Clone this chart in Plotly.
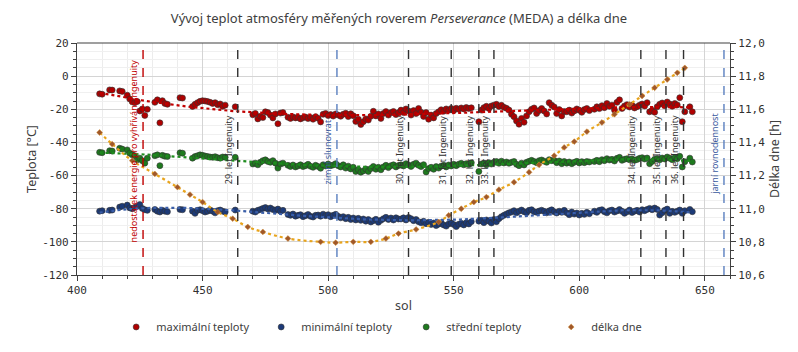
import numpy as np
import plotly.graph_objects as go

# ---------------- data ----------------
sols = [409, 410, 413, 414, 417, 418, 420, 421, 422, 423, 424, 425, 426, 427, 428,
        431, 432, 433, 434, 435, 436,
        441, 442,
        446, 447, 448, 449, 450, 451, 452, 453, 454, 455, 456, 457, 458, 459,
        463,
        470, 471, 472, 473, 474, 475, 476, 477, 478, 479, 480, 481, 482,
        484, 485, 486, 487, 488, 489, 490, 491, 492, 493, 494, 495, 496, 497, 498,
        499, 500, 501, 502, 503, 504, 505, 506, 507, 508, 509, 510, 511, 512, 513,
        514, 515, 516, 517, 518, 519, 520, 521, 522, 523, 524, 525, 526, 527, 528,
        529, 530, 531, 532, 533, 534, 535, 536, 537, 538, 539, 540, 541, 542, 543,
        544, 545, 546, 547, 548, 549, 550, 551, 552, 553, 554, 555, 556, 557,
        560,
        561, 562, 563, 564, 565, 566, 567, 568, 569, 570, 571, 572,
        573, 574, 575, 576, 577, 578, 579, 580, 581, 582, 583, 584, 585, 586, 587,
        588, 589, 590, 591, 592, 593, 594,
        595, 596, 597, 598, 599, 600, 601, 602, 603, 604,
        606, 607, 608, 609, 610, 611, 612, 613, 614, 615, 616, 617, 618, 619, 620,
        621, 622, 623, 624, 625, 626, 627, 628, 629, 630, 631, 632, 633, 634, 635,
        636, 637, 638, 639, 640, 641, 642, 644, 645]

t_max = [-10.7, -10.9, -8.3, -8.4, -8.9, -9.2, -11.5, -13.8, -15.5, -16.0, -15.3, -21.0, -19.8, -23.7, -20.0,
         -15.8, -14.3, -28.2, -14.8, -16.5, -17.0,
         -13.0, -13.2,
         -18.3, -17.0, -16.0, -15.2, -14.8, -15.0, -15.3, -15.8, -16.5, -16.0, -17.2, -16.8, -18.2, -17.5,
         -18.5,
         -23.3, -22.5, -25.8, -24.2, -25.0, -21.5, -22.0, -23.5, -25.2, -22.8, -28.7, -22.3, -22.0,
         -24.8, -25.5, -24.6, -25.2, -24.9, -25.8, -25.1, -24.7, -25.6, -25.0, -26.0, -24.5, -25.4, -27.6, -23.0,
         -22.5, -23.8, -23.2, -24.1, -22.8, -23.5, -24.2, -23.0, -22.4, -24.4, -22.7, -23.9, -27.3, -26.0, -29.2,
         -27.5, -25.8, -26.5, -24.2, -21.2, -24.0, -22.8, -25.5, -22.5, -21.4, -23.5, -22.0, -21.3, -23.2, -22.0,
         -20.5, -22.0, -19.8, -21.0, -23.5, -20.8, -22.6, -19.5, -21.8, -24.3, -22.0, -26.0, -23.5, -25.2, -22.6,
         -21.5, -20.3, -21.2, -19.8, -20.6, -19.5, -20.8, -19.4, -20.0, -19.2, -19.8, -18.9, -19.5, -19.1,
         -27.5,
         -20.5, -19.0, -18.2, -19.5, -18.0, -17.5, -17.0, -18.3, -17.6, -18.8, -19.4, -20.5,
         -23.0, -24.5, -27.0, -29.0, -25.5, -27.8, -24.0, -21.5, -20.0, -19.2, -22.5, -20.8, -19.5, -21.0, -22.8,
         -16.0, -17.5, -18.6, -22.5, -20.2, -24.0, -21.3,
         -21.5, -20.5, -22.3, -21.0, -19.8, -20.6, -21.8, -20.2, -19.5, -20.8,
         -20.0, -18.5, -19.6, -17.8, -19.0, -16.5, -18.2, -17.5, -20.5, -15.8, -14.3, -19.5, -18.0, -17.2, -18.6,
         -17.6, -19.2, -18.4, -17.5, -16.8, -18.0, -16.0, -21.5, -20.6, -21.8, -18.5, -17.0, -16.2, -17.8, -15.6,
         -16.8, -18.2, -16.5, -17.4, -13.0, -27.5, -21.5, -18.5, -21.5]

t_min = [-81.5, -81.2, -81.0, -80.8, -79.0, -78.5, -77.8, -79.5, -80.0, -79.2, -78.5, -77.5, -79.8, -80.6, -81.0,
         -80.5, -81.5, -82.0, -81.0, -81.5, -81.8,
         -80.4, -80.6,
         -81.5, -82.8, -81.0, -80.6, -81.2, -82.0, -81.5, -80.8, -81.5, -82.5, -81.2, -80.8, -81.5, -82.0,
         -80.8,
         -81.5, -82.0, -81.0, -80.5, -79.8, -79.3, -80.2, -79.6, -80.5, -81.0, -80.2, -81.5, -81.0,
         -83.5, -84.0, -83.2, -84.5, -84.0, -83.6, -84.8, -84.2, -83.5, -84.6, -85.0, -84.0, -83.8, -84.5, -83.3,
         -84.2, -83.6, -84.8, -84.0, -83.4, -84.6, -85.5, -84.8, -86.0, -85.2, -86.5, -85.6, -86.8, -85.8, -87.0,
         -86.2, -87.5, -86.5, -88.0, -87.2, -86.4, -88.2, -87.0, -86.0, -85.2, -86.5, -85.6, -86.8, -85.5, -86.2,
         -86.2, -85.5, -86.8, -85.3, -86.0, -87.2, -86.5, -87.8, -88.5, -87.6, -89.0, -88.2, -89.5, -88.6, -90.2,
         -89.3, -88.4, -89.8, -90.5, -89.2, -88.6, -89.6, -90.8, -89.4, -88.8, -89.8, -88.5, -89.2, -87.8,
         -87.5,
         -87.0, -88.4, -86.8, -87.5, -88.6, -86.5, -87.8, -86.0, -84.8, -84.0, -83.2, -82.5,
         -82.0, -81.2, -82.5, -81.5, -80.8, -81.8, -82.4, -81.0, -80.6, -81.8, -82.2, -81.4, -80.9, -81.6, -82.5,
         -81.3, -80.7, -81.9, -82.6, -81.5, -82.2, -81.0,
         -82.5, -83.6, -82.0, -83.2, -82.6, -83.8, -82.8, -83.4, -82.2, -83.0,
         -81.5, -82.2, -81.0, -80.6, -81.8, -82.5, -81.2, -80.8, -82.0, -81.4, -80.5, -81.6, -82.8, -81.9, -80.8,
         -82.3, -81.5, -81.0, -82.0, -80.6, -81.2, -80.4, -79.8, -80.6, -79.6, -80.4, -83.8, -82.5, -81.0, -80.2,
         -82.8, -81.6, -82.2, -81.5, -80.8, -82.8, -81.2, -80.4, -81.8]

t_mean = [-46.0, -46.2, -45.0, -45.2, -43.5, -44.0, -44.5, -46.5, -47.5, -48.0, -50.5, -49.5, -51.0, -52.5, -49.5,
          -48.0, -47.5, -54.0, -47.8, -48.3, -48.5,
          -46.3, -46.5,
          -49.5, -48.5, -48.0, -47.5, -47.8, -48.2, -48.5, -48.8, -49.0, -48.6, -49.2, -49.5, -48.8, -49.0,
          -49.0,
          -53.0, -52.5, -53.5, -52.0, -51.0, -50.5, -51.5, -52.0, -51.0, -52.5, -55.5, -53.0, -52.5,
          -53.8, -54.5, -53.6, -54.8, -54.2, -53.5, -54.6, -54.0, -53.2, -54.4, -55.0, -53.8, -54.5, -55.6, -53.5,
          -54.2, -53.0, -54.0, -53.6, -52.8, -54.0, -54.8, -53.5, -55.5, -54.3, -56.0, -55.0, -57.5, -56.5, -58.0,
          -57.2, -56.0, -57.5, -55.8, -54.5, -56.2, -55.0, -56.5, -54.8, -53.8, -55.2, -54.0, -53.5, -54.8, -53.9,
          -53.5, -54.2, -52.8, -53.6, -54.5, -53.2, -52.5, -53.8, -54.6, -53.4, -57.8, -55.8, -55.0, -56.2, -54.6,
          -55.5, -54.3, -53.8, -54.8, -53.6, -54.2, -53.2, -54.0, -53.1, -52.6, -53.5, -52.8, -53.3, -52.2,
          -57.5,
          -53.0, -52.5, -53.5, -52.2, -53.0, -52.0, -51.5, -52.6, -51.3, -52.4, -51.8, -52.6,
          -52.0, -51.5, -53.2, -54.0, -52.5, -53.6, -52.0, -51.4, -50.8, -51.5, -52.2, -51.0, -50.6, -51.3, -52.0,
          -50.4, -51.0, -50.8, -52.2, -51.2, -52.8, -51.5,
          -52.5, -51.8, -52.8, -52.0, -51.4, -52.4, -51.6, -52.2, -51.5, -51.8,
          -51.5, -50.8, -51.6, -50.4, -51.0, -49.8, -50.6, -50.2, -51.2, -49.6, -49.0, -50.8, -50.2, -49.8, -50.5,
          -50.0, -50.8, -50.3, -49.6, -49.2, -50.0, -49.4, -52.8, -51.5, -50.2, -49.8, -50.5, -49.4, -50.0, -48.8,
          -49.6, -50.4, -49.2, -49.8, -48.4, -54.8, -51.6, -49.5, -51.8]

dl_sols = [409, 414, 422, 431, 440, 445, 450, 456, 462, 468, 474, 484, 497, 503, 510, 517,
           523, 528, 535, 544, 548, 553, 558, 563, 568, 574, 580, 584, 590, 594, 598, 603,
           609, 614, 620, 625, 630, 635, 639, 642]
dl_hours = [11.46, 11.39, 11.29, 11.21, 11.13, 11.085, 11.04, 10.98, 10.94, 10.89, 10.86, 10.82,
            10.80, 10.795, 10.80, 10.80, 10.82, 10.85, 10.875, 10.92, 10.96, 11.00, 11.04, 11.07,
            11.115, 11.16, 11.22, 11.265, 11.32, 11.37, 11.405, 11.465, 11.52, 11.57, 11.63, 11.68,
            11.73, 11.78, 11.82, 11.85]

event_sols = [426.3, 464, 503.5, 532, 549, 560, 566, 624.5, 634.5, 641.5, 657.6]
event_labels = ["nedostatek energie pro vyhřívání Ingenuity", "29. let Ingenuity", "zimní slunovrat",
                "30. let Ingenuity", "31. let Ingenuity", "32. let Ingenuity", "33. let Ingenuity",
                "34. let Ingenuity", "35. let Ingenuity", "36. let Ingenuity", "jarní rovnodennost"]
event_kinds = ["energy", "flight", "season", "flight", "flight", "flight", "flight",
               "flight", "flight", "flight", "season"]

y_ticks = [20, 0, -20, -40, -60, -80, -100, -120]
y_tick_labels = ["20", "0", "-20", "-40", "-60", "-80", "-100", "-120"]
y2_ticks = [10.6, 10.8, 11.0, 11.2, 11.4, 11.6, 11.8, 12.0]
y2_tick_labels = ["10,6", "10,8", "11,0", "11,2", "11,4", "11,6", "11,8", "12,0"]
x_ticks = [400, 450, 500, 550, 600, 650]

# ---------------- styling ----------------
C_MAX, C_MIN, C_MEAN = "#b00000", "#1c3a78", "#1e7a1e"
C_DL_M, C_DL_L = "#a0582a", "#e8a41c"
SANS = "Noto Sans"
MONO = "DejaVu Sans Mono"

fig = go.Figure()

def add_series(x, y, color, name, trend_color):
    fig.add_trace(go.Scatter(x=x, y=y, mode="markers", name=name,
                             marker=dict(size=6, color=color, line=dict(width=0.6, color="#333333"))))
    coef = np.polyfit(x, y, 4)
    xx = np.linspace(min(x), max(x), 200)
    fig.add_trace(go.Scatter(x=xx, y=np.polyval(coef, xx), mode="lines", showlegend=False,
                             hoverinfo="skip",
                             line=dict(color=trend_color, width=2.2, dash="dot")))

add_series(sols, t_max, C_MAX, "maximální teploty", "#c00000")
add_series(sols, t_min, C_MIN, "minimální teploty", "#3a5ea8")
add_series(sols, t_mean, C_MEAN, "střední teploty", "#1e8c1e")

fig.add_trace(go.Scatter(x=dl_sols, y=dl_hours, mode="lines", yaxis="y2",
                         showlegend=False, hoverinfo="skip", line_shape="spline",
                         line=dict(color=C_DL_L, width=2.2, dash="dot")))
fig.add_trace(go.Scatter(x=dl_sols, y=dl_hours, mode="markers", yaxis="y2", name="délka dne",
                         marker=dict(symbol="diamond", size=4.5, color=C_DL_M,
                                     line=dict(width=0.5, color="#d08a30"))))

# event lines + labels
style = {"energy": ("#c00000", "#c00000", -101.5),
         "flight": ("#303030", "#303030", -66.6),
         "season": ("#5a7fbf", "#3a5aa0", -66.6)}
for s, lab, k in zip(event_sols, event_labels, event_kinds):
    lc, tc, ybot = style[k]
    if lab.startswith("jarní"):
        ybot = -72.5
    fig.add_shape(type="line", xref="x", yref="paper", x0=s, x1=s, y0=0, y1=1,
                  line=dict(color=lc, width=1.4, dash="dash"), layer="above")
    fig.add_annotation(x=s, y=ybot, xref="x", yref="y", text=lab, textangle=-90,
                       showarrow=False, xanchor="right", yanchor="bottom", xshift=-1,
                       font=dict(family=SANS, size=9, color=tc))

axis_common = dict(showline=True, linecolor="#404040", linewidth=1.2, mirror=False,
                   ticks="outside", ticklen=5, tickcolor="#404040",
                   tickfont=dict(family=MONO, size=11, color="#303030"),
                   zeroline=False, automargin=True)

fig.update_layout(
    width=798, height=352,
    margin=dict(l=77, r=68, t=43, b=77, autoexpand=False),
    paper_bgcolor="white", plot_bgcolor="white",
    title=dict(text="Vývoj teplot atmosféry měřených roverem <i>Perseverance</i> (MEDA) a délka dne",
               x=0.5, xanchor="center", y=1 - 18 / 352, yanchor="middle",
               font=dict(family=SANS, size=13, color="#404040")),
    xaxis=dict(range=[400, 660], tickvals=x_ticks, ticktext=[str(v) for v in x_ticks],
               showgrid=True, gridcolor="#d4d4d4", gridwidth=1,
               minor=dict(dtick=10, tick0=400, showgrid=True, gridcolor="#ececec",
                          ticks="outside", ticklen=3, tickcolor="#404040"),
               title=dict(text="sol", font=dict(family=SANS, size=12.5, color="#404040"), standoff=4),
               **axis_common),
    yaxis=dict(range=[-120, 20], tickvals=y_ticks, ticktext=y_tick_labels,
               showgrid=True, gridcolor="#d4d4d4", gridwidth=1,
               minor=dict(dtick=5, tick0=0, showgrid=True, gridcolor="#f0f0f0",
                          ticks="outside", ticklen=3, tickcolor="#404040"),
               title=dict(text="Teplota [°C]", font=dict(family=SANS, size=12.5, color="#404040"), standoff=2),
               **axis_common),
    yaxis2=dict(range=[10.6, 12.0], tickvals=y2_ticks, ticktext=y2_tick_labels,
                overlaying="y", side="right", showgrid=False,
                minor=dict(dtick=0.05, tick0=10.6, ticks="outside", ticklen=3, tickcolor="#404040"),
                title=dict(text="Délka dne [h]", font=dict(family=SANS, size=12.5, color="#404040"), standoff=6),
                **axis_common),
    legend=dict(orientation="h", x=0.06, xanchor="left", y=-0.224, yanchor="middle",
                entrywidth=100, entrywidthmode="pixels", itemwidth=30,
                font=dict(family=SANS, size=11, color="#404040"), bgcolor="rgba(0,0,0,0)"),
    showlegend=True,
)
# top frame line
fig.add_shape(type="line", xref="paper", yref="paper", x0=0, x1=1, y0=1, y1=1,
              line=dict(color="#404040", width=1.2))

fig.write_html("out.html")
